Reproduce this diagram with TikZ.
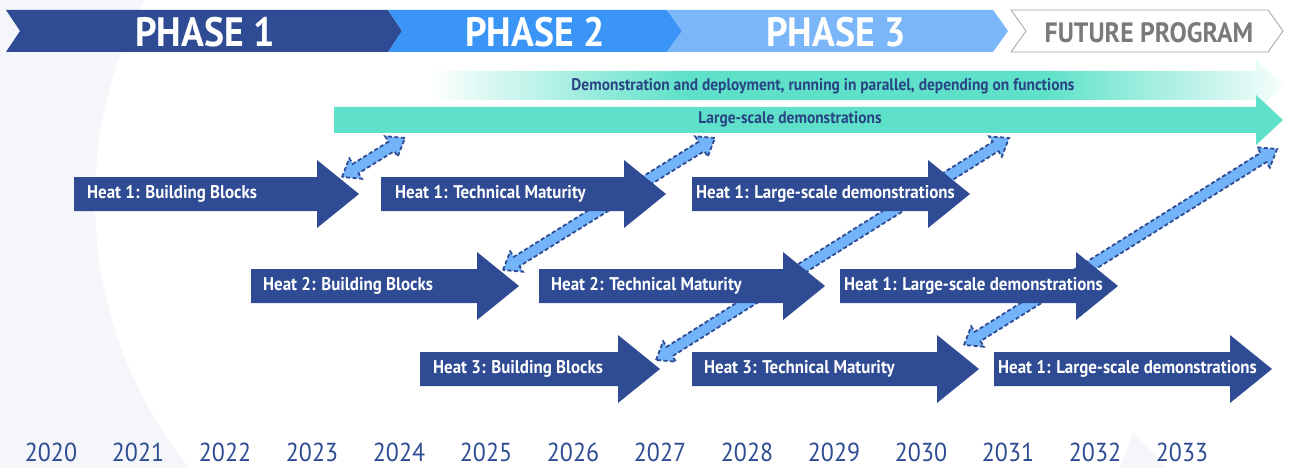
\documentclass[tikz,border=0pt]{standalone}
\usepackage{fontspec}
\newfontfamily\dinfont[FakeStretch=0.92]{PT Sans}
\usetikzlibrary{calc}
\definecolor{navy}{HTML}{2E4B93}
\definecolor{phasetwo}{HTML}{3A95F7}
\definecolor{phasethree}{HTML}{7AB6F8}
\definecolor{teal}{HTML}{5EE1C8}
\definecolor{linkblue}{HTML}{73B3F9}
\definecolor{bgray}{HTML}{F5F6FA}
\definecolor{futgray}{HTML}{7A7A7A}
\pgfdeclarehorizontalshading{demofade}{100bp}{color(0bp)=(white); color(25bp)=(white);
  color(40bp)=(teal); color(61bp)=(teal); color(75bp)=(teal!5); color(100bp)=(teal!5)}

\begin{document}
\begin{tikzpicture}[x=1pt,y=-1pt,
  phase/.style={text=white,font=\dinfont\bfseries\fontsize{41}{41}\selectfont,inner sep=0pt},
  tealtext/.style={text=navy!90!black,font=\dinfont\bfseries\fontsize{16.8}{16.8}\selectfont,inner sep=0pt},
  heatlabel/.style={text=white,font=\dinfont\bfseries\fontsize{18.4}{18.4}\selectfont,inner sep=0pt,anchor=west},
  link/.style={fill=linkblue,draw=navy,line width=1.8pt,dash pattern=on 4pt off 2.5pt},
  year/.style={text=navy,font=\dinfont\fontsize{26}{26}\selectfont,inner sep=0pt}]
    \useasboundingbox (0,0) rectangle (1290,468);
    % background
    \begin{scope}
      \clip (0,0) rectangle (200,468);
      \fill[bgray] (0,0) rectangle (200,468);
      \fill[white] (523,200) circle (428);
    \end{scope}
    \fill[bgray] (1120,468) -- (1133,432) -- (1166,468) -- cycle;
    % phases
    \fill[navy] (6,10) -- (388,10) -- (402,31) -- (388,52) -- (6,52) -- (20,31) -- cycle;
    \fill[phasetwo] (388,10) -- (667,10) -- (682,31) -- (667,52) -- (388,52) -- (402,31) -- cycle;
    \fill[phasethree] (667,10) -- (993,10) -- (1008,31) -- (993,52) -- (667,52) -- (682,31) -- cycle;
    \draw[futgray!70,line width=0.8pt] (1011,10) -- (1268,10) -- (1283,31) -- (1268,52)
      -- (1011,52) -- (1026,31) -- cycle;
    \node[phase] (p1) at (205,32) {PHASE 1};
    \node[phase] (p2) at (535,32) {PHASE 2};
    \node[phase] (p3) at (836,32) {PHASE 3};
    \node[phase,text=futgray,font=\dinfont\bfseries\fontsize{28}{28}\selectfont] (fut) at (1149,33) {FUTURE PROGRAM};
    % demonstration arrows
    \shade[shading=demofade] (430,71) -- (1256,71) -- (1256,60)
      -- (1284,86) -- (1256,112) -- (1256,100) -- (430,100) -- cycle;
    \fill[teal] (334,107) -- (1256,107) -- (1256,95) -- (1283,120) -- (1256,145) -- (1256,133)
      -- (334,133) -- cycle;
    \node[tealtext] (demo) at (823,86) {Demonstration and deployment, running in parallel, depending on functions};
    \node[tealtext] (large) at (790,119) {Large-scale demonstrations};
    % links between heats
    \coordinate (d1a) at (342,177);
    \coordinate (d1b) at (405,138);
    \coordinate (d2a) at (503,270);
    \coordinate (d2b) at (715,138);
    \coordinate (d3a) at (656,360);
    \coordinate (d3b) at (1009,138);
    \coordinate (d4a) at (964,345);
    \coordinate (d4b) at (1277,149);
    \foreach \s/\e in {d1a/d1b,d2a/d2b,d3a/d3b,d4a/d4b} {
      \coordinate (p) at ($(\s)!16pt!(\e)$);
      \coordinate (q) at ($(\e)!16pt!(\s)$);
      \draw[link] (\s) -- ($(p)!12pt!90:(\e)$) -- ($(p)!5.5pt!90:(\e)$) -- ($(q)!5.5pt!-90:(\s)$)
        -- ($(q)!12pt!-90:(\s)$) -- (\e) -- ($(q)!12pt!90:(\s)$) -- ($(q)!5.5pt!90:(\s)$)
        -- ($(p)!5.5pt!-90:(\e)$) -- ($(p)!12pt!-90:(\e)$) -- cycle;
    }
    % heats
    \foreach \n/\a/\b/\y/\d/\t in {
        h1bb/74/317/194/13/{Heat 1: Building Blocks},
        h1tm/381/624/194/14/{Heat 1: Technical Maturity},
        h1lsd/692/928/194/4/{Heat 1: Large-scale demonstrations},
        h2bb/251/477/286/12/{Heat 2: Building Blocks},
        h2tm/539/783/286/12/{Heat 2: Technical Maturity},
        h2lsd/840/1076/286/4/{Heat 1: Large-scale demonstrations},
        h3bb/420/618/369/13/{Heat 3: Building Blocks},
        h3tm/692/937/369/12/{Heat 3: Technical Maturity},
        h3lsd/994/1230/369/4/{Heat 1: Large-scale demonstrations}} {
      \fill[navy] (\a,\y-17) -- (\b,\y-17) -- (\b,\y-34) -- (\b+42,\y) -- (\b,\y+34) -- (\b,\y+17)
        -- (\a,\y+17) -- cycle;
      \node[heatlabel] (\n) at (\a+\d,\y) {\t};
    }
    % years
    \foreach \i in {0,...,13} {
      \pgfmathtruncatemacro\yr{2020+\i}
      \node[year] (y\i) at (51+87*\i,452) {\yr};
    }
  \end{tikzpicture}
\end{document}
